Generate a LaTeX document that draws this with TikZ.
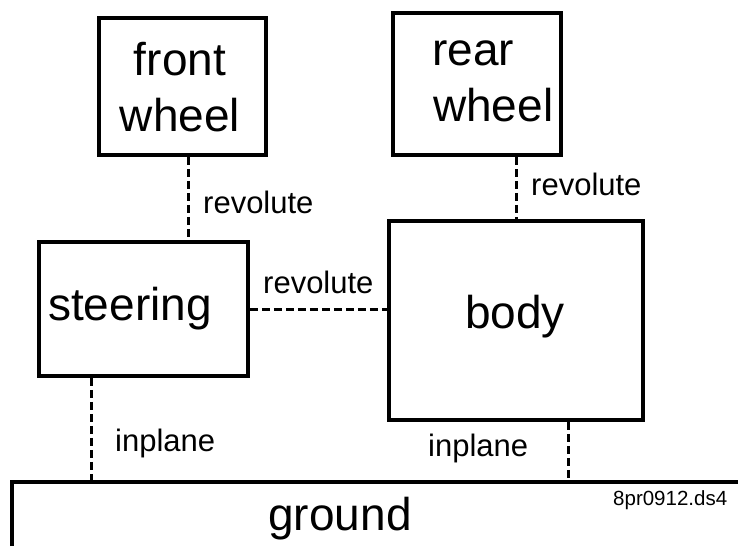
\documentclass[tikz,border=0pt]{standalone}
\usepackage{fontspec}
\setmainfont{Liberation Sans}
\begin{document}
\begin{tikzpicture}[x=1pt,y=-1pt]
\tikzset{
  box/.style={draw=black, line width=3.5pt, rectangle, inner sep=0pt},
  bigtxt/.style={font=\fontsize{46}{50}\selectfont, inner sep=0pt, anchor=base west},
  smalltxt/.style={font=\fontsize{31}{34}\selectfont, inner sep=0pt, anchor=base west},
  tinytxt/.style={font=\fontsize{20.5}{24}\selectfont, inner sep=0pt, anchor=base west},
  joint/.style={draw=black, line width=3pt, dash pattern=on 8pt off 4pt},
  groundline/.style={draw=black, line width=4pt}
}
\useasboundingbox (0,0) rectangle (738,546);
\fill[white] (0,0) rectangle (738,546);

% boxes
\node[box, minimum width=167pt, minimum height=137pt] (fw) at (182.5,86.5) {};
\node[box, minimum width=168pt, minimum height=142pt] (rw) at (477,84) {};
\node[box, minimum width=209pt, minimum height=134pt] (steer) at (143.5,309) {};
\node[box, minimum width=254pt, minimum height=199pt] (body) at (516,320.5) {};
\node[minimum width=780pt, minimum height=90pt, anchor=north west, inner sep=0pt] (ground) at (12,482) {};

% box texts
\node[bigtxt, anchor=base] (fwt1) at (180,75) {front};
\node[bigtxt, anchor=base] (fwt2) at (180,131.5) {wheel};
\node[bigtxt] (rwt1) at (432,65) {rear};
\node[bigtxt] (rwt2) at (433,121.5) {wheel};
\node[bigtxt] (steert) at (48,320) {steering};
\node[bigtxt, anchor=base] (bodyt) at (515,328) {body};
\node[bigtxt, anchor=base] (groundt) at (340,530) {ground};

% ground edges
\draw[groundline] (ground.north west |- 0,546) -- (ground.north west) -- (ground.north east);

% joints
\coordinate (jfx) at (188,0);
\coordinate (jsx) at (91,0);
\coordinate (jbx) at (568,0);
\draw[joint] (fw.south -| jfx) -- (steer.north -| jfx);
\draw[joint] (rw.south -| body.north) -- (body.north);
\draw[joint] (steer.east) -- (steer.east -| body.west);
\draw[joint] (steer.south -| jsx) -- (ground.north -| jsx);
\draw[joint] (body.south -| jbx) -- (ground.north -| jbx);

% joint labels
\node[smalltxt] (l1) at (203,213) {revolute};
\node[smalltxt] (l2) at (531,195) {revolute};
\node[smalltxt] (l3) at (263,293) {revolute};
\node[smalltxt] (l4) at (115,451) {inplane};
\node[smalltxt] (l5) at (428,456) {inplane};
\node[tinytxt] (fname) at (613,505) {8pr0912.ds4};
\end{tikzpicture}
\end{document}
